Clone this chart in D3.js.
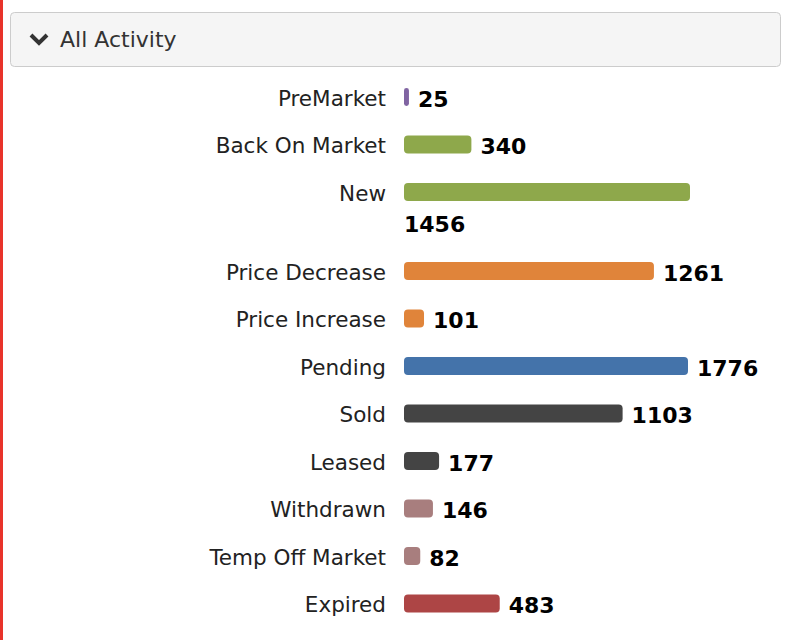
<!DOCTYPE html>
<html><head><meta charset="utf-8">
<script src="https://cdn.jsdelivr.net/npm/d3@7"></script>
<style>
body{margin:0;background:#fff;font-family:"DejaVu Sans",Verdana,sans-serif;}
</style></head>
<body><svg id="chart" width="788" height="640"></svg>
<script>
// activity counts
var categories = ['PreMarket','Back On Market','New','Price Decrease','Price Increase','Pending','Sold','Leased','Withdrawn','Temp Off Market','Expired']
var counts = [25,340,1456,1261,101,1776,1103,177,146,82,483]
var colors = ['#8064a2','#8ea84b','#8ea84b','#e0843a','#e0843a','#4473aa','#444444','#444444','#a87e7e','#a87e7e','#ad4545']
var wrapped = ['New'] // value label drops to next line

var svg = d3.select('#chart')

// red left edge
svg.append('rect').attr('x',0).attr('y',0).attr('width',3).attr('height',640).attr('fill','#e8332a')

// header
svg.append('rect').attr('x',10.5).attr('y',12.5).attr('width',770).attr('height',54).attr('rx',4)
  .attr('fill','#f5f5f5').attr('stroke','#cccccc')
svg.append('path').attr('d','M31,35 L39,43 L47,35').attr('fill','none').attr('stroke','#333').attr('stroke-width',4)
svg.append('text').attr('x',60).attr('y',47).attr('font-size',22).attr('fill','#333').text('All Activity')

// bars grow at ~0.2px per unit but are capped by the available width
var x = d3.scaleLinear().domain([0,d3.max(counts)]).range([0,352])
var maxW = 284
var left = 404, barH = 18, step = 47.5, extra = 31.5
function bw(d) { return d.wrap ? maxW + 2 : Math.max(3, Math.min(maxW, x(d.value))) }

var y = 98
var rows = categories.map(function (c, i) {
  var r = { name: c, value: counts[i], color: colors[i], y: y, wrap: wrapped.indexOf(c) > -1 }
  y += step + (r.wrap ? extra : 0)
  return r
})

var g = svg.selectAll('g.row').data(rows).enter().append('g').attr('class','row')

g.append('text')
  .attr('x',386).attr('y',function (d) { return d.y }).attr('dy','0.35em')
  .attr('text-anchor','end').attr('font-size',21.5).attr('fill','#222')
  .text(function (d) { return d.name })

g.append('rect')
  .attr('x',left).attr('y',function (d) { return d.y - barH/2 - 1 })
  .attr('width',bw)
  .attr('height',barH)
  .attr('rx',function (d) { return Math.min(4, bw(d)/2) })
  .attr('fill',function (d) { return d.color })

g.append('text')
  .attr('x',function (d) { return d.wrap ? left : left + bw(d) + 9 })
  .attr('y',function (d) { return d.wrap ? d.y + extra : d.y + 1 })
  .attr('dy','0.35em').attr('font-size',22).attr('font-weight','bold').attr('fill','#000')
  .text(function (d) { return d.value })
</script></body></html>
